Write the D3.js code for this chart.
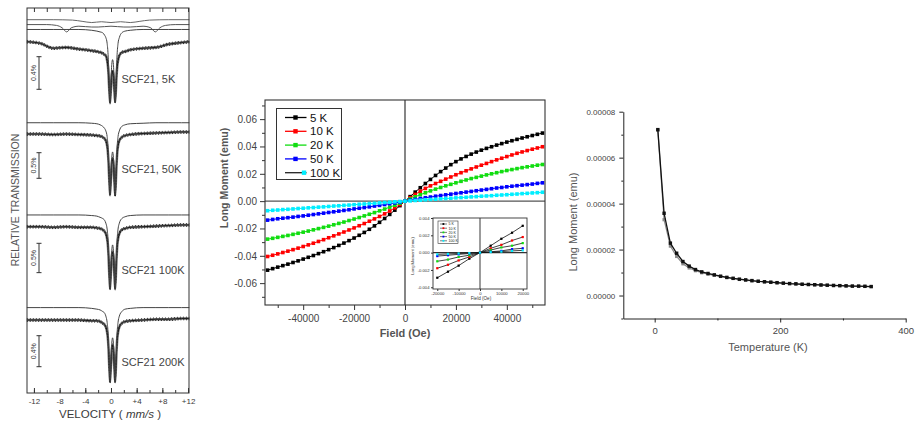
<!DOCTYPE html>
<html><head><meta charset="utf-8">
<script src="https://cdn.jsdelivr.net/npm/d3@7"></script>
<style>
body{margin:0;background:#fff}
svg{display:block}
text{font-family:"Liberation Sans",Arial,sans-serif}
</style>
</head><body>
<svg id="c" width="916" height="426"></svg>
<script>
// ---------------- Panel 1: Mössbauer spectra ----------------
const velocity = [-13.1,-11,-9,-7,-5,-3,-2.2,-1.7,-1.3,-1.0,-0.8,-0.6,-0.45,-0.3,-0.15,0,0.12,0.25,0.38,0.5,0.65,0.8,0.95,1.1,1.3,1.7,2.2,3,5,7,9,11,12.2];
const velocityTicks = [-12,-8,-4,0,4,8,12];
const spectrumLabels = ["SCF21, 5K","SCF21, 50K","SCF21 100K","SCF21 200K"];
const scaleBarLabels = ["0.4%","0.5%","0.5%","0.4%"];
const scaleBarPct = [0.4,0.5,0.5,0.4];
const data5K  = [0.00,-0.02,-0.08,-0.07,-0.09,-0.11,-0.12,-0.13,-0.14,-0.16,-0.17,-0.23,-0.32,-0.53,-0.75,-0.56,-0.41,-0.36,-0.41,-0.56,-0.74,-0.53,-0.32,-0.23,-0.17,-0.13,-0.12,-0.10,-0.08,-0.07,-0.03,-0.01,0.00];
const fitC5K  = [0.15,0.15,0.15,0.15,0.15,0.14,0.13,0.12,0.11,0.08,0.05,-0.02,-0.16,-0.45,-0.75,-0.49,-0.28,-0.22,-0.28,-0.49,-0.75,-0.45,-0.16,-0.02,0.05,0.11,0.13,0.14,0.15,0.15,0.15,0.15,0.15];
const velocityA = [-13.1,-9,-6,-4.5,-3,-1.5,0,1.5,3,4.5,6,9,12.2];
const fitA5K  = [0.27,0.27,0.265,0.25,0.235,0.245,0.235,0.245,0.235,0.25,0.265,0.27,0.27];
const velocityB = [-13.1,-10,-8.5,-7.6,-6.9,-6.2,-5,-3,-2,0,2,3,5,6.2,6.9,7.6,8.5,10,12.2];
const fitB5K  = [0.21,0.21,0.20,0.17,0.12,0.17,0.19,0.18,0.18,0.19,0.18,0.18,0.19,0.17,0.12,0.17,0.20,0.21,0.21];
const data50K = [0.00,0.00,-0.01,0.00,-0.01,-0.02,-0.03,-0.04,-0.06,-0.09,-0.13,-0.23,-0.41,-0.79,-1.19,-0.85,-0.57,-0.48,-0.57,-0.85,-1.20,-0.79,-0.41,-0.23,-0.13,-0.06,-0.03,-0.01,0.01,0.02,0.03,0.04,0.04];
const fit50K  = [0.22,0.22,0.22,0.22,0.22,0.21,0.20,0.18,0.15,0.11,0.06,-0.05,-0.26,-0.72,-1.19,-0.78,-0.46,-0.35,-0.46,-0.78,-1.19,-0.72,-0.26,-0.05,0.06,0.15,0.18,0.20,0.21,0.22,0.22,0.22,0.22];
const data100K = [0.00,0.00,-0.01,0.00,-0.01,-0.01,-0.02,-0.03,-0.05,-0.08,-0.12,-0.21,-0.36,-0.71,-1.06,-0.75,-0.51,-0.43,-0.51,-0.75,-1.06,-0.71,-0.36,-0.21,-0.12,-0.05,-0.03,-0.01,0.00,0.01,0.02,0.03,0.03];
const fit100K  = [0.20,0.20,0.20,0.20,0.20,0.19,0.18,0.16,0.14,0.11,0.06,-0.04,-0.23,-0.64,-1.06,-0.70,-0.41,-0.31,-0.41,-0.70,-1.06,-0.64,-0.23,-0.04,0.06,0.14,0.17,0.19,0.20,0.20,0.20,0.20,0.20];
const data200K = [0.00,0.00,0.00,0.00,0.00,-0.01,-0.01,-0.02,-0.04,-0.06,-0.09,-0.16,-0.27,-0.53,-0.80,-0.57,-0.39,-0.32,-0.39,-0.57,-0.80,-0.53,-0.27,-0.16,-0.09,-0.04,-0.02,-0.01,0.00,0.01,0.01,0.02,0.02];
const fit200K  = [0.16,0.16,0.16,0.16,0.16,0.15,0.14,0.13,0.11,0.09,0.05,-0.03,-0.17,-0.48,-0.80,-0.52,-0.30,-0.23,-0.30,-0.52,-0.80,-0.48,-0.17,-0.03,0.05,0.11,0.14,0.15,0.16,0.16,0.16,0.16,0.16];

// ---------------- Panel 2: M(H) ----------------
const fieldOe = [-54000,-52000,-50000,-48000,-46000,-44000,-42000,-40000,-38000,-36000,-34000,-32000,-30000,-28000,-26000,-24000,-22000,-20000,-18000,-16000,-14000,-12000,-10000,-8000,-6000,-4000,-2000,0,2000,4000,6000,8000,10000,12000,14000,16000,18000,20000,22000,24000,26000,28000,30000,32000,34000,36000,38000,40000,42000,44000,46000,48000,50000,52000,54000];
const seriesNames = ["5 K","10 K","20 K","50 K","100 K"];
const m5K = [-0.0505,-0.0494,-0.0483,-0.0472,-0.0461,-0.0449,-0.0437,-0.0424,-0.0411,-0.0398,-0.0384,-0.0370,-0.0355,-0.0340,-0.0324,-0.0307,-0.0289,-0.0270,-0.0250,-0.0229,-0.0206,-0.0181,-0.0155,-0.0127,-0.0097,-0.0066,-0.0033,0,0.0033,0.0066,0.0098,0.0129,0.0159,0.0188,0.0216,0.0242,0.0267,0.0289,0.0309,0.0327,0.0344,0.0359,0.0373,0.0386,0.0398,0.0410,0.0421,0.0432,0.0442,0.0452,0.0462,0.0471,0.0480,0.0489,0.0498];
const m10K = [-0.0405,-0.0396,-0.0386,-0.0376,-0.0366,-0.0355,-0.0344,-0.0332,-0.0320,-0.0308,-0.0295,-0.0282,-0.0268,-0.0254,-0.0240,-0.0226,-0.0211,-0.0196,-0.0180,-0.0164,-0.0147,-0.0130,-0.0112,-0.0093,-0.0072,-0.0049,-0.0025,0,0.0025,0.0049,0.0072,0.0093,0.0112,0.0129,0.0145,0.0161,0.0177,0.0193,0.0208,0.0222,0.0236,0.0250,0.0263,0.0276,0.0289,0.0302,0.0314,0.0326,0.0338,0.0350,0.0360,0.0370,0.0380,0.0389,0.0398];
const m20K = [-0.0278,-0.0272,-0.0265,-0.0258,-0.0251,-0.0243,-0.0235,-0.0227,-0.0219,-0.0210,-0.0201,-0.0192,-0.0183,-0.0173,-0.0163,-0.0153,-0.0142,-0.0131,-0.0120,-0.0108,-0.0096,-0.0084,-0.0071,-0.0058,-0.0044,-0.0030,-0.0015,0,0.0016,0.0032,0.0047,0.0061,0.0075,0.0088,0.0100,0.0112,0.0123,0.0134,0.0145,0.0155,0.0165,0.0174,0.0183,0.0192,0.0200,0.0208,0.0216,0.0224,0.0231,0.0238,0.0245,0.0251,0.0257,0.0263,0.0268];
const m50K = [-0.0139,-0.0134,-0.0129,-0.0125,-0.0121,-0.0117,-0.0112,-0.0108,-0.0103,-0.0098,-0.0093,-0.0088,-0.0083,-0.0078,-0.0073,-0.0068,-0.0063,-0.0057,-0.0052,-0.0047,-0.0042,-0.0036,-0.0031,-0.0025,-0.0019,-0.0013,-0.0007,0,0.0007,0.0013,0.0019,0.0025,0.0030,0.0036,0.0041,0.0046,0.0051,0.0056,0.0061,0.0066,0.0071,0.0076,0.0081,0.0086,0.0091,0.0096,0.0100,0.0105,0.0109,0.0113,0.0117,0.0121,0.0125,0.0130,0.0134];
const m100K = [-0.0070,-0.0067,-0.0065,-0.0062,-0.0060,-0.0057,-0.0054,-0.0052,-0.0049,-0.0047,-0.0044,-0.0042,-0.0039,-0.0036,-0.0034,-0.0031,-0.0029,-0.0026,-0.0023,-0.0021,-0.0018,-0.0016,-0.0013,-0.0010,-0.0008,-0.0005,-0.0003,0,0.0002,0.0005,0.0007,0.0010,0.0012,0.0014,0.0017,0.0019,0.0021,0.0024,0.0026,0.0028,0.0031,0.0033,0.0036,0.0038,0.0040,0.0043,0.0045,0.0047,0.0050,0.0052,0.0055,0.0057,0.0060,0.0062,0.0065];
const mhYTicks = [-0.06,-0.04,-0.02,0,0.02,0.04,0.06];
const mhYMinor = [-0.07,-0.05,-0.03,-0.01,0.01,0.03,0.05,0.07];
const mhXTicks = [-40000,-20000,0,20000,40000];
const mhXMinor = [-50000,-30000,-10000,10000,30000,50000];
// inset
const insetField = [-20000,-15000,-10000,-5000,0,5000,10000,15000,20000];
const inset5K   = [-0.0029,-0.0022,-0.0015,-0.0007,0,0.0008,0.0016,0.0023,0.0031];
const inset10K  = [-0.0018,-0.0014,-0.0009,-0.0005,0,0.0005,0.0009,0.0014,0.0018];
const inset20K  = [-0.0010,-0.0008,-0.0005,-0.0003,0,0.0003,0.0006,0.0008,0.0011];
const inset50K  = [-0.0004,-0.0003,-0.0002,-0.0001,0,0.0001,0.0002,0.0004,0.0005];
const inset100K = [-0.0002,-0.00015,-0.0001,-0.00005,0,0.00006,0.00012,0.0002,0.00026];
const insetXTicks = [-20000,-10000,0,10000,20000];
const insetYTicks = [-0.004,-0.002,0,0.002,0.004];

// ---------------- Panel 3: M(T) ----------------
const tempK = [5,15,25,35,45,55,65,75,85,95,105,115,125,135,145,155,165,175,185,195,205,215,225,235,245,255,265,275,285,295,305,315,325,335,345];
const momentFC = [7.22e-5,3.58e-5,2.28e-5,1.84e-5,1.48e-5,1.28e-5,1.13e-5,1.03e-5,0.96e-5,0.90e-5,0.84e-5,0.79e-5,0.75e-5,0.71e-5,0.68e-5,0.65e-5,0.62e-5,0.60e-5,0.58e-5,0.56e-5,0.54e-5,0.52e-5,0.51e-5,0.49e-5,0.48e-5,0.47e-5,0.46e-5,0.45e-5,0.44e-5,0.43e-5,0.42e-5,0.41e-5,0.41e-5,0.40e-5,0.39e-5];
const momentZFC = [7.20e-5,3.30e-5,2.15e-5,1.70e-5,1.38e-5,1.20e-5,1.08e-5,0.99e-5,0.93e-5,0.88e-5,0.83e-5,0.78e-5,0.74e-5,0.70e-5,0.67e-5,0.64e-5,0.62e-5,0.59e-5,0.57e-5,0.55e-5,0.53e-5,0.52e-5,0.50e-5,0.49e-5,0.48e-5,0.46e-5,0.45e-5,0.44e-5,0.43e-5,0.43e-5,0.42e-5,0.41e-5,0.40e-5,0.40e-5,0.39e-5];
const mtYTicks = [0,2e-5,4e-5,6e-5,8e-5];
const mtYMinor = [-1e-5,1e-5,3e-5,5e-5,7e-5];
const mtXTicks = [0,200,400];
const mtXMinor = [100,300];

// =================================================================
const svg = d3.select("#c");
const txt = "#3a3a3a";

// ---------- Panel 1 ----------
(function(){
  const L=27,R=189,T=8,B=393;
  const x = d3.scaleLinear().domain([-13.08,12.15]).range([L,R]);
  const g = svg.append("g");
  const layouts = [
    {base:41.7, pxPct:81.5, barTop:56.7, lab:83.3, data:data5K, fit:fitC5K},
    {base:134,  pxPct:51.2, barTop:152.7, lab:173.3, data:data50K, fit:fit50K},
    {base:226.7,pxPct:58.7, barTop:243.3, lab:274, data:data100K, fit:fit100K},
    {base:320,  pxPct:77.5, barTop:335.7, lab:365.7, data:data200K, fit:fit200K}
  ];
  layouts.forEach((lo,i)=>{
    const y = d3.scaleLinear().domain([0,-1]).range([lo.base, lo.base+lo.pxPct]);
    const line = d3.line().x(d=>x(d[0])).y(d=>y(d[1])).curve(d3.curveMonotoneX);
    if(i===0){
      g.append("path").attr("d", line(d3.zip(velocityA, fitA5K))).attr("fill","none").attr("stroke","#666").attr("stroke-width",1);
      g.append("path").attr("d", line(d3.zip(velocityB, fitB5K))).attr("fill","none").attr("stroke","#555").attr("stroke-width",1);
    }
    const pts = d3.zip(velocity, lo.data);
    // noisy data band
    g.append("path").attr("d", line(pts)).attr("fill","none").attr("stroke","#777").attr("stroke-width",2.6).attr("stroke-linejoin","round");
    [-1.3,1.3].forEach((dy,k)=>{
      g.append("path").attr("d", line(pts)).attr("transform",`translate(0,${dy})`).attr("fill","none")
        .attr("stroke","#222").attr("stroke-width",1).attr("stroke-dasharray", k? "1.1,1.7":"0.9,2.1");
    });
    g.append("path").attr("d", line(pts)).attr("fill","none").attr("stroke","#111").attr("stroke-width",0.9);
    g.append("path").attr("d", line(d3.zip(velocity, lo.fit))).attr("fill","none").attr("stroke","#444").attr("stroke-width",1);
    // scale bar
    const bl = scaleBarPct[i]*lo.pxPct;
    const bx = 39;
    g.append("line").attr("x1",bx).attr("x2",bx).attr("y1",lo.barTop).attr("y2",lo.barTop+bl).attr("stroke","#333");
    g.append("line").attr("x1",bx-2.5).attr("x2",bx+2.5).attr("y1",lo.barTop).attr("y2",lo.barTop).attr("stroke","#333");
    g.append("line").attr("x1",bx-2.5).attr("x2",bx+2.5).attr("y1",lo.barTop+bl).attr("y2",lo.barTop+bl).attr("stroke","#333");
    g.append("text").attr("transform",`translate(${bx-3},${lo.barTop+bl/2}) rotate(-90)`).attr("text-anchor","middle")
      .attr("font-size",7).attr("fill",txt).text(scaleBarLabels[i]);
    g.append("text").attr("x",121.5).attr("y",lo.lab).attr("font-size",11).attr("fill","#444").text(spectrumLabels[i]);
  });
  g.append("rect").attr("x",L).attr("y",T).attr("width",R-L).attr("height",B-T).attr("fill","none").attr("stroke","#333").attr("stroke-width",1);
  const tv2 = [-12,-10,-8,-6,-4,-2,0,2,4,6,8,10,12];
  g.append("g").attr("transform",`translate(0,${T})`).call(d3.axisTop(x).tickValues(tv2).tickSize(-4).tickFormat(""))
    .call(a=>a.select(".domain").remove()).selectAll("line").attr("stroke","#333");
  g.append("g").attr("transform",`translate(0,${B})`).call(d3.axisBottom(x).tickValues(tv2).tickSize(-3).tickFormat(""))
    .call(a=>a.select(".domain").remove()).selectAll("line").attr("stroke","#333");
  const ax = g.append("g").attr("transform",`translate(0,${B})`).call(d3.axisBottom(x).tickValues(velocityTicks).tickSize(-5).tickPadding(5)
    .tickFormat(d=> d>0 ? "+"+d : String(d)));
  ax.select(".domain").remove();
  ax.selectAll("line").attr("stroke","#333");
  ax.selectAll("text").attr("font-size",8).attr("fill",txt).attr("font-family","Liberation Sans, Arial, sans-serif");
  const vt = g.append("text").attr("x",110).attr("y",418).attr("text-anchor","middle").attr("font-size",11.5).attr("fill",txt);
  vt.append("tspan").text("VELOCITY ( ");
  vt.append("tspan").attr("font-style","italic").text("mm/s");
  vt.append("tspan").text(" )");
  g.append("text").attr("transform","translate(19,200) rotate(-90)").attr("text-anchor","middle").attr("font-size",10.5).attr("fill","#555").text("RELATIVE TRANSMISSION");
})();

// ---------- Panel 2 ----------
(function(){
  const L=265,R=545,T=100,B=305;
  const x = d3.scaleLinear().domain([-55000,55000]).range([L,R]);
  const y = d3.scaleLinear().domain([-0.076,0.074]).range([B,T]);
  const g = svg.append("g");
  const colors = ["#000000","#ff0000","#11dd11","#0000ff","#00eeff"];
  const all = [m5K,m10K,m20K,m50K,m100K];
  g.append("line").attr("x1",L).attr("x2",R).attr("y1",y(0)).attr("y2",y(0)).attr("stroke","#555").attr("stroke-width",1.4);
  g.append("line").attr("x1",x(0)).attr("x2",x(0)).attr("y1",T).attr("y2",B).attr("stroke","#222").attr("stroke-width",1.1);
  const line = d3.line().x(d=>x(d[0])).y(d=>y(d[1]));
  all.forEach((s,i)=>{
    const pts = d3.zip(fieldOe, s);
    g.append("path").attr("d", line(pts)).attr("fill","none").attr("stroke",colors[i]).attr("stroke-width",1);
    g.append("g").selectAll("rect").data(pts).join("rect")
      .attr("x",d=>x(d[0])-1.8).attr("y",d=>y(d[1])-1.8).attr("width",3.6).attr("height",3.6).attr("fill",colors[i]);
  });
  g.append("rect").attr("x",L).attr("y",T).attr("width",R-L).attr("height",B-T).attr("fill","none").attr("stroke","#333").attr("stroke-width",1.1);
  const ya = g.append("g").attr("transform",`translate(${L},0)`).call(d3.axisLeft(y).tickValues(mhYTicks).tickSize(5).tickPadding(3).tickFormat(d=>d.toFixed(2)));
  const ym = g.append("g").attr("transform",`translate(${L},0)`).call(d3.axisLeft(y).tickValues(mhYMinor).tickSize(3).tickFormat(""));
  const xa = g.append("g").attr("transform",`translate(0,${B})`).call(d3.axisBottom(x).tickValues(mhXTicks).tickSize(5).tickPadding(5).tickFormat(d=>String(d)));
  const xm = g.append("g").attr("transform",`translate(0,${B})`).call(d3.axisBottom(x).tickValues(mhXMinor).tickSize(3).tickFormat(""));
  [ya,ym,xa,xm].forEach(a=>{a.select(".domain").remove(); a.selectAll("line").attr("stroke","#333");
    a.selectAll("text").attr("font-size",10).attr("fill","#444").attr("font-family","Liberation Sans, Arial, sans-serif");});
  g.append("text").attr("transform","translate(228,178) rotate(-90)").attr("text-anchor","middle").attr("font-size",10.5).attr("font-weight","bold").attr("fill","#555").text("Long Moment (emu)");
  g.append("text").attr("x",405).attr("y",337).attr("text-anchor","middle").attr("font-size",11).attr("font-weight","bold").attr("fill","#555").text("Field (Oe)");
  // legend
  const lg = g.append("g");
  lg.append("rect").attr("x",276.5).attr("y",108.5).attr("width",65).attr("height",71).attr("fill","#fff").attr("stroke","#333");
  seriesNames.forEach((n,i)=>{
    const yy = 117.5 + i*13.8;
    lg.append("line").attr("x1",285).attr("x2",306.5).attr("y1",yy).attr("y2",yy).attr("stroke", i===4?"#222":colors[i]).attr("stroke-width",1.3);
    const mx = i===4 ? 304 : 295.5;
    lg.append("rect").attr("x",mx-2.2).attr("y",yy-2.2).attr("width",4.4).attr("height",4.4).attr("fill",colors[i]);
    lg.append("text").attr("x",310).attr("y",yy+4).attr("font-size",11.5).attr("fill","#111").text(n);
  });
  // inset
  const iL=433,iR=527,iT=218,iB=289;
  const ix = d3.scaleLinear().domain([-22000,22000]).range([iL,iR]);
  const iy = d3.scaleLinear().domain([-0.0042,0.0040]).range([iB,iT]);
  const ig = g.append("g");
  ig.append("rect").attr("x",iL).attr("y",iT).attr("width",iR-iL).attr("height",iB-iT).attr("fill","#fff");
  ig.append("line").attr("x1",iL).attr("x2",iR).attr("y1",iy(0)).attr("y2",iy(0)).attr("stroke","#333").attr("stroke-width",1.3);
  ig.append("line").attr("x1",ix(0)).attr("x2",ix(0)).attr("y1",iT).attr("y2",iB).attr("stroke","#222").attr("stroke-width",0.9);
  const il = d3.line().x(d=>ix(d[0])).y(d=>iy(d[1]));
  [inset5K,inset10K,inset20K,inset50K,inset100K].forEach((s,i)=>{
    const pts = d3.zip(insetField,s);
    ig.append("path").attr("d",il(pts)).attr("fill","none").attr("stroke","#111").attr("stroke-width",0.8);
    ig.append("g").selectAll("rect").data(pts).join("rect")
      .attr("x",d=>ix(d[0])-1.1).attr("y",d=>iy(d[1])-1.1).attr("width",2.2).attr("height",2.2).attr("fill",colors[i]);
  });
  ig.append("rect").attr("x",iL).attr("y",iT).attr("width",iR-iL).attr("height",iB-iT).attr("fill","none").attr("stroke","#333").attr("stroke-width",0.9);
  const iya = ig.append("g").attr("transform",`translate(${iL},0)`).call(d3.axisLeft(iy).tickValues(insetYTicks).tickSize(2).tickPadding(1.5).tickFormat(d=>d.toFixed(3)));
  const ixa = ig.append("g").attr("transform",`translate(0,${iB})`).call(d3.axisBottom(ix).tickValues(insetXTicks).tickSize(2).tickPadding(1.5).tickFormat(d=>String(d)));
  [iya,ixa].forEach(a=>{a.select(".domain").remove(); a.selectAll("line").attr("stroke","#333");
    a.selectAll("text").attr("font-size",4.2).attr("fill","#333").attr("font-family","Liberation Sans, Arial, sans-serif");});
  ig.append("text").attr("transform","translate(414,256) rotate(-90)").attr("text-anchor","middle").attr("font-size",4.2).attr("fill","#333").text("Long Moment (emu)");
  ig.append("text").attr("x",481).attr("y",300).attr("text-anchor","middle").attr("font-size",4.6).attr("fill","#333").text("Field (Oe)");
  const ilg = ig.append("g");
  ilg.append("rect").attr("x",438).attr("y",221).attr("width",20).attr("height",22.5).attr("fill","#fff").attr("stroke","#333").attr("stroke-width",0.6);
  seriesNames.forEach((n,i)=>{
    const yy = 224 + i*4.2;
    ilg.append("line").attr("x1",440).attr("x2",447).attr("y1",yy).attr("y2",yy).attr("stroke","#222").attr("stroke-width",0.6);
    ilg.append("rect").attr("x",442.5).attr("y",yy-0.9).attr("width",1.8).attr("height",1.8).attr("fill",colors[i]);
    ilg.append("text").attr("x",448.5).attr("y",yy+1.3).attr("font-size",3.6).attr("fill","#222").text(n);
  });
})();

// ---------- Panel 3 ----------
(function(){
  const L=623.3,R=905.7,T=111.7,B=318.5;
  const x = d3.scaleLinear().domain([-50,400]).range([L,R]);
  const y = d3.scaleLinear().domain([-1e-5,8e-5]).range([B,T]);
  const g = svg.append("g");
  const line = d3.line().x(d=>x(d[0])).y(d=>y(d[1]));
  const zfc = d3.zip(tempK, momentZFC), fc = d3.zip(tempK, momentFC);
  g.append("path").attr("d",line(zfc)).attr("fill","none").attr("stroke","#888").attr("stroke-width",1.2);
  g.append("g").selectAll("rect").data(zfc).join("rect").attr("x",d=>x(d[0])-1.6).attr("y",d=>y(d[1])-1.6).attr("width",3.2).attr("height",3.2).attr("fill","#888");
  g.append("path").attr("d",line(fc)).attr("fill","none").attr("stroke","#111").attr("stroke-width",1.3);
  g.append("g").selectAll("rect").data(fc).join("rect").attr("x",d=>x(d[0])-1.7).attr("y",d=>y(d[1])-1.7).attr("width",3.4).attr("height",3.4).attr("fill","#111");
  const ya = g.append("g").attr("transform",`translate(${L},0)`).call(d3.axisLeft(y).tickValues(mtYTicks).tickSize(4).tickSizeOuter(0).tickPadding(4).tickFormat(d=>d.toFixed(5)));
  const ym = g.append("g").attr("transform",`translate(${L},0)`).call(d3.axisLeft(y).tickValues(mtYMinor).tickSize(2).tickFormat(""));
  const xa = g.append("g").attr("transform",`translate(0,${B})`).call(d3.axisBottom(x).tickValues(mtXTicks).tickSize(4).tickSizeOuter(0).tickPadding(5).tickFormat(d=>String(d)));
  const xm = g.append("g").attr("transform",`translate(0,${B})`).call(d3.axisBottom(x).tickValues(mtXMinor).tickSize(2).tickFormat(""));
  ym.select(".domain").remove(); xm.select(".domain").remove();
  [ya,ym,xa,xm].forEach(a=>{a.selectAll("line").attr("stroke","#222"); a.select(".domain").attr("stroke","#222");});
  ya.selectAll("text").attr("font-size",8).attr("fill","#444").attr("font-family","Liberation Sans, Arial, sans-serif");
  xa.selectAll("text").attr("font-size",9.5).attr("fill","#444").attr("font-family","Liberation Sans, Arial, sans-serif");
  g.append("text").attr("transform","translate(577,222) rotate(-90)").attr("text-anchor","middle").attr("font-size",11).attr("fill","#555").text("Long Moment (emu)");
  g.append("text").attr("x",768).attr("y",351).attr("text-anchor","middle").attr("font-size",11).attr("fill","#555").text("Temperature (K)");
})();
</script>
</body></html>
